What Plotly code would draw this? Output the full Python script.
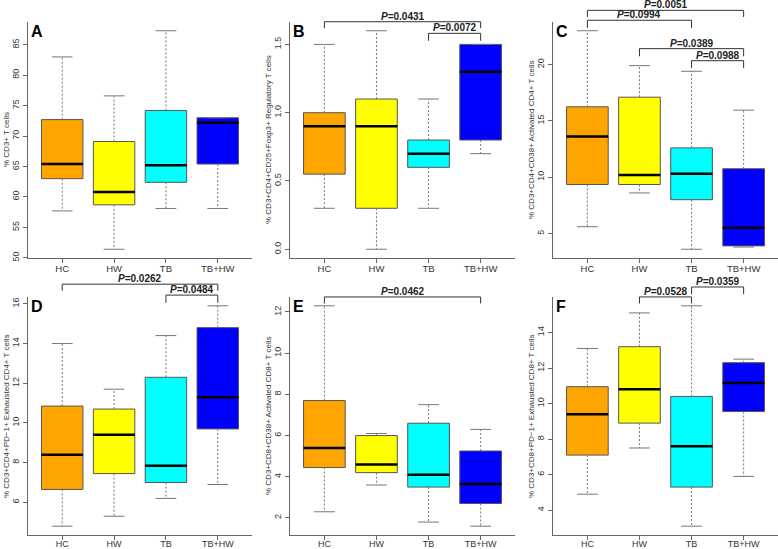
import plotly.graph_objects as go

groups = ["HC", "HW", "TB", "TB+HW"]
fills = ["#FFA500", "#FFFF00", "#00FFFF", "#0000FF"]

# A: % CD3+ T cells
a_lower = [57.7, 51.4, 58.1, 58.1]
a_q1 = [63.0, 58.7, 62.4, 65.4]
a_median = [65.4, 60.8, 65.2, 72.2]
a_q3 = [72.7, 69.1, 74.2, 73.0]
a_upper = [83.0, 76.6, 87.3, 73.0]

# B: regulatory T cells
b_lower = [0.3, 0.0, 0.3, 0.7]
b_q1 = [0.55, 0.3, 0.6, 0.8]
b_median = [0.9, 0.9, 0.7, 1.3]
b_q3 = [1.0, 1.1, 0.8, 1.5]
b_upper = [1.5, 1.6, 1.1, 1.5]

# C: activated CD4+
c_lower = [5.6, 8.6, 3.6, 3.8]
c_q1 = [9.35, 9.35, 8.0, 3.9]
c_median = [13.6, 10.2, 10.3, 5.5]
c_q3 = [16.25, 17.1, 12.6, 10.75]
c_upper = [23.0, 19.9, 19.4, 15.95]

# D: exhausted CD4+
d_lower = [4.8, 5.3, 6.2, 6.9]
d_q1 = [6.65, 7.45, 7.0, 9.7]
d_median = [8.4, 9.4, 7.85, 11.3]
d_q3 = [10.85, 10.7, 12.3, 14.8]
d_upper = [14.0, 11.7, 14.4, 15.9]

# E: activated CD8+
e_lower = [2.3, 3.6, 1.8, 1.6]
e_q1 = [4.45, 4.2, 3.5, 2.7]
e_median = [5.4, 4.6, 4.1, 3.65]
e_q3 = [7.7, 6.0, 6.6, 5.25]
e_upper = [12.3, 6.1, 7.5, 6.3]

# F: exhausted CD8+
f_lower = [4.9, 7.5, 3.1, 5.9]
f_q1 = [7.1, 8.9, 5.3, 9.55]
f_median = [9.4, 10.8, 7.6, 11.15]
f_q3 = [10.95, 13.2, 10.4, 12.3]
f_upper = [13.1, 15.1, 15.5, 12.5]

letters = ["A", "B", "C", "D", "E", "F"]
ytitles = [
    "% CD3+ T cells",
    "% CD3+CD4+CD25+Foxp3+ Regulatory T cells",
    "% CD3+CD4+CD38+ Activated CD4+ T cells",
    "% CD3+CD4+PD\u22121+ Exhausted CD4+ T cells",
    "% CD3+CD8+CD38+ Activated CD8+ T cells",
    "% CD3+CD8+PD\u22121+ Exhausted CD8+ T cells",
]

# p-value comparisons: (group from, group to, p)
b_pvals = [(1, 4, "0.0431"), (3, 4, "0.0072")]
c_pvals = [(1, 4, "0.0051"), (1, 3, "0.0994"), (2, 4, "0.0389"), (3, 4, "0.0988")]
d_pvals = [(1, 4, "0.0262"), (3, 4, "0.0484")]
e_pvals = [(1, 4, "0.0462")]
f_pvals = [(2, 3, "0.0528"), (3, 4, "0.0359")]

panels = [
    (a_lower, a_q1, a_median, a_q3, a_upper, (50, 5), []),
    (b_lower, b_q1, b_median, b_q3, b_upper, (0, 0.5), b_pvals),
    (c_lower, c_q1, c_median, c_q3, c_upper, (5, 5), c_pvals),
    (d_lower, d_q1, d_median, d_q3, d_upper, (6, 2), d_pvals),
    (e_lower, e_q1, e_median, e_q3, e_upper, (2, 2), e_pvals),
    (f_lower, f_q1, f_median, f_q3, f_upper, (4, 2), f_pvals),
]

# bracket heights in data units: (line, end of drop)
bracket_y = [
    [],
    [(1.666, 1.618), (1.581, 1.527)],
    [(24.81, 24.22), (23.93, 23.25), (21.41, 20.73), (20.34, 19.69)],
    [(16.99, 16.66), (16.44, 16.05)],
    [(12.73, 12.41)],
    [(16.0, 15.63), (16.56, 16.15)],
]

W, H = 778, 549
cols = [(28, 252), (290, 515), (553, 778)]
rows = [(22, 258), (297, 535)]
FONT = "Liberation Sans, Arial, sans-serif"
xr = (0.34, 4.66)
pos = [1, 2, 3, 4]

fig = go.Figure()
layout = dict(
    width=W, height=H, margin=dict(l=0, r=0, t=0, b=0, pad=0),
    paper_bgcolor="white", plot_bgcolor="white",
    showlegend=False, boxmode="overlay",
    font=dict(family=FONT, color="#333"),
)
shapes, annotations = [], []

for k, (lo, q1, med, q3, up, (t0, dt), pvals) in enumerate(panels):
    c0, c1 = cols[k % 3]
    r0, r1 = rows[k // 3]
    xd = [c0 / W, c1 / W]
    yd = [1 - r1 / H, 1 - r0 / H]
    sfx = "" if k == 0 else str(k + 1)
    xa, ya = "x" + sfx, "y" + sfx

    vmin, vmax = min(lo), max(up)
    span = vmax - vmin
    yr = (vmin - 0.04 * span, vmax + 0.04 * span)

    layout["xaxis" + sfx] = dict(
        domain=xd, anchor=ya, range=list(xr), tickvals=pos, ticktext=groups,
        showline=True, linecolor="#666", linewidth=1, ticks="outside",
        ticklen=4, tickcolor="#666", showgrid=False, zeroline=False,
        tickfont=dict(size=9.5 if k < 3 else 9, color="#333"), fixedrange=True,
        automargin=False, ticklabelstandoff=-2 if k < 3 else -4,
    )
    layout["yaxis" + sfx] = dict(
        domain=yd, anchor=xa, range=list(yr), tick0=t0, dtick=dt,
        tickformat=".1f" if k == 1 else "", tickangle=-90,
        showline=True, linecolor="#666", linewidth=1, ticks="outside",
        ticklen=4, tickcolor="#666", showgrid=False, zeroline=False,
        tickfont=dict(size=9, color="#333"), fixedrange=True,
        automargin=False,
    )

    for i in range(4):
        fig.add_trace(go.Box(
            x=[pos[i]], q1=[q1[i]], median=[med[i]], q3=[q3[i]],
            lowerfence=[q1[i]], upperfence=[q3[i]], width=0.8,
            fillcolor=fills[i], line=dict(color="#555", width=1),
            whiskerwidth=0, boxpoints=False, hoverinfo="skip",
            xaxis=xa, yaxis=ya,
        ))

    wx, wy, cx, cy, mx, my = [], [], [], [], [], []
    for i in range(4):
        p = pos[i]
        wx += [p, p, None, p, p, None]
        wy += [q3[i], up[i], None, q1[i], lo[i], None]
        cx += [p - 0.2, p + 0.2, None, p - 0.2, p + 0.2, None]
        cy += [up[i], up[i], None, lo[i], lo[i], None]
        mx += [p - 0.4, p + 0.4, None]
        my += [med[i], med[i], None]
    fig.add_trace(go.Scatter(x=wx, y=wy, mode="lines", xaxis=xa, yaxis=ya,
                             line=dict(color="#777", width=1, dash="2px,2px"),
                             hoverinfo="skip"))
    fig.add_trace(go.Scatter(x=cx, y=cy, mode="lines", xaxis=xa, yaxis=ya,
                             line=dict(color="#777", width=1), hoverinfo="skip"))
    fig.add_trace(go.Scatter(x=mx, y=my, mode="lines", xaxis=xa, yaxis=ya,
                             line=dict(color="black", width=2.5), hoverinfo="skip"))

    def px(v):
        return xd[0] + (v - xr[0]) / (xr[1] - xr[0]) * (xd[1] - xd[0])

    def py(v):
        return yd[0] + (v - yr[0]) / (yr[1] - yr[0]) * (yd[1] - yd[0])

    for (g1, g2, p), (yl, ye) in zip(pvals, bracket_y[k]):
        x1, x2 = px(g1), px(g2)
        shapes.append(dict(
            type="path", xref="paper", yref="paper",
            path=f"M{x1},{py(ye)} L{x1},{py(yl)} L{x2},{py(yl)} L{x2},{py(ye)}",
            line=dict(color="#333", width=1),
        ))
        annotations.append(dict(
            xref="paper", yref="paper", x=(x1 + x2) / 2, y=py(yl),
            xanchor="center", yanchor="bottom", showarrow=False, yshift=-2,
            text=f"<b><i>P</i>=0.{p[2:]}</b>",
            font=dict(size=10, color="#222", family=FONT),
        ))

    annotations.append(dict(
        xref="paper", yref="paper", x=(c0 + 1) / W, y=1 - (r0 - 1) / H,
        xanchor="left", yanchor="top", showarrow=False,
        text=f"<b>{letters[k]}</b>", font=dict(size=16, color="black", family=FONT),
    ))
    annotations.append(dict(
        xref="paper", yref="paper", x=(c0 - 22) / W, y=(yd[0] + yd[1]) / 2,
        xanchor="center", yanchor="middle", showarrow=False, textangle=-90,
        text=ytitles[k], font=dict(size=8, color="#333", family=FONT),
    ))

layout["shapes"] = shapes
layout["annotations"] = annotations
fig.update_layout(**layout)

# drop the page's default body margin so the figure sits at the window origin
fig.write_html("out.html", config={"displayModeBar": False},
               post_script="document.body.style.margin='0';")
